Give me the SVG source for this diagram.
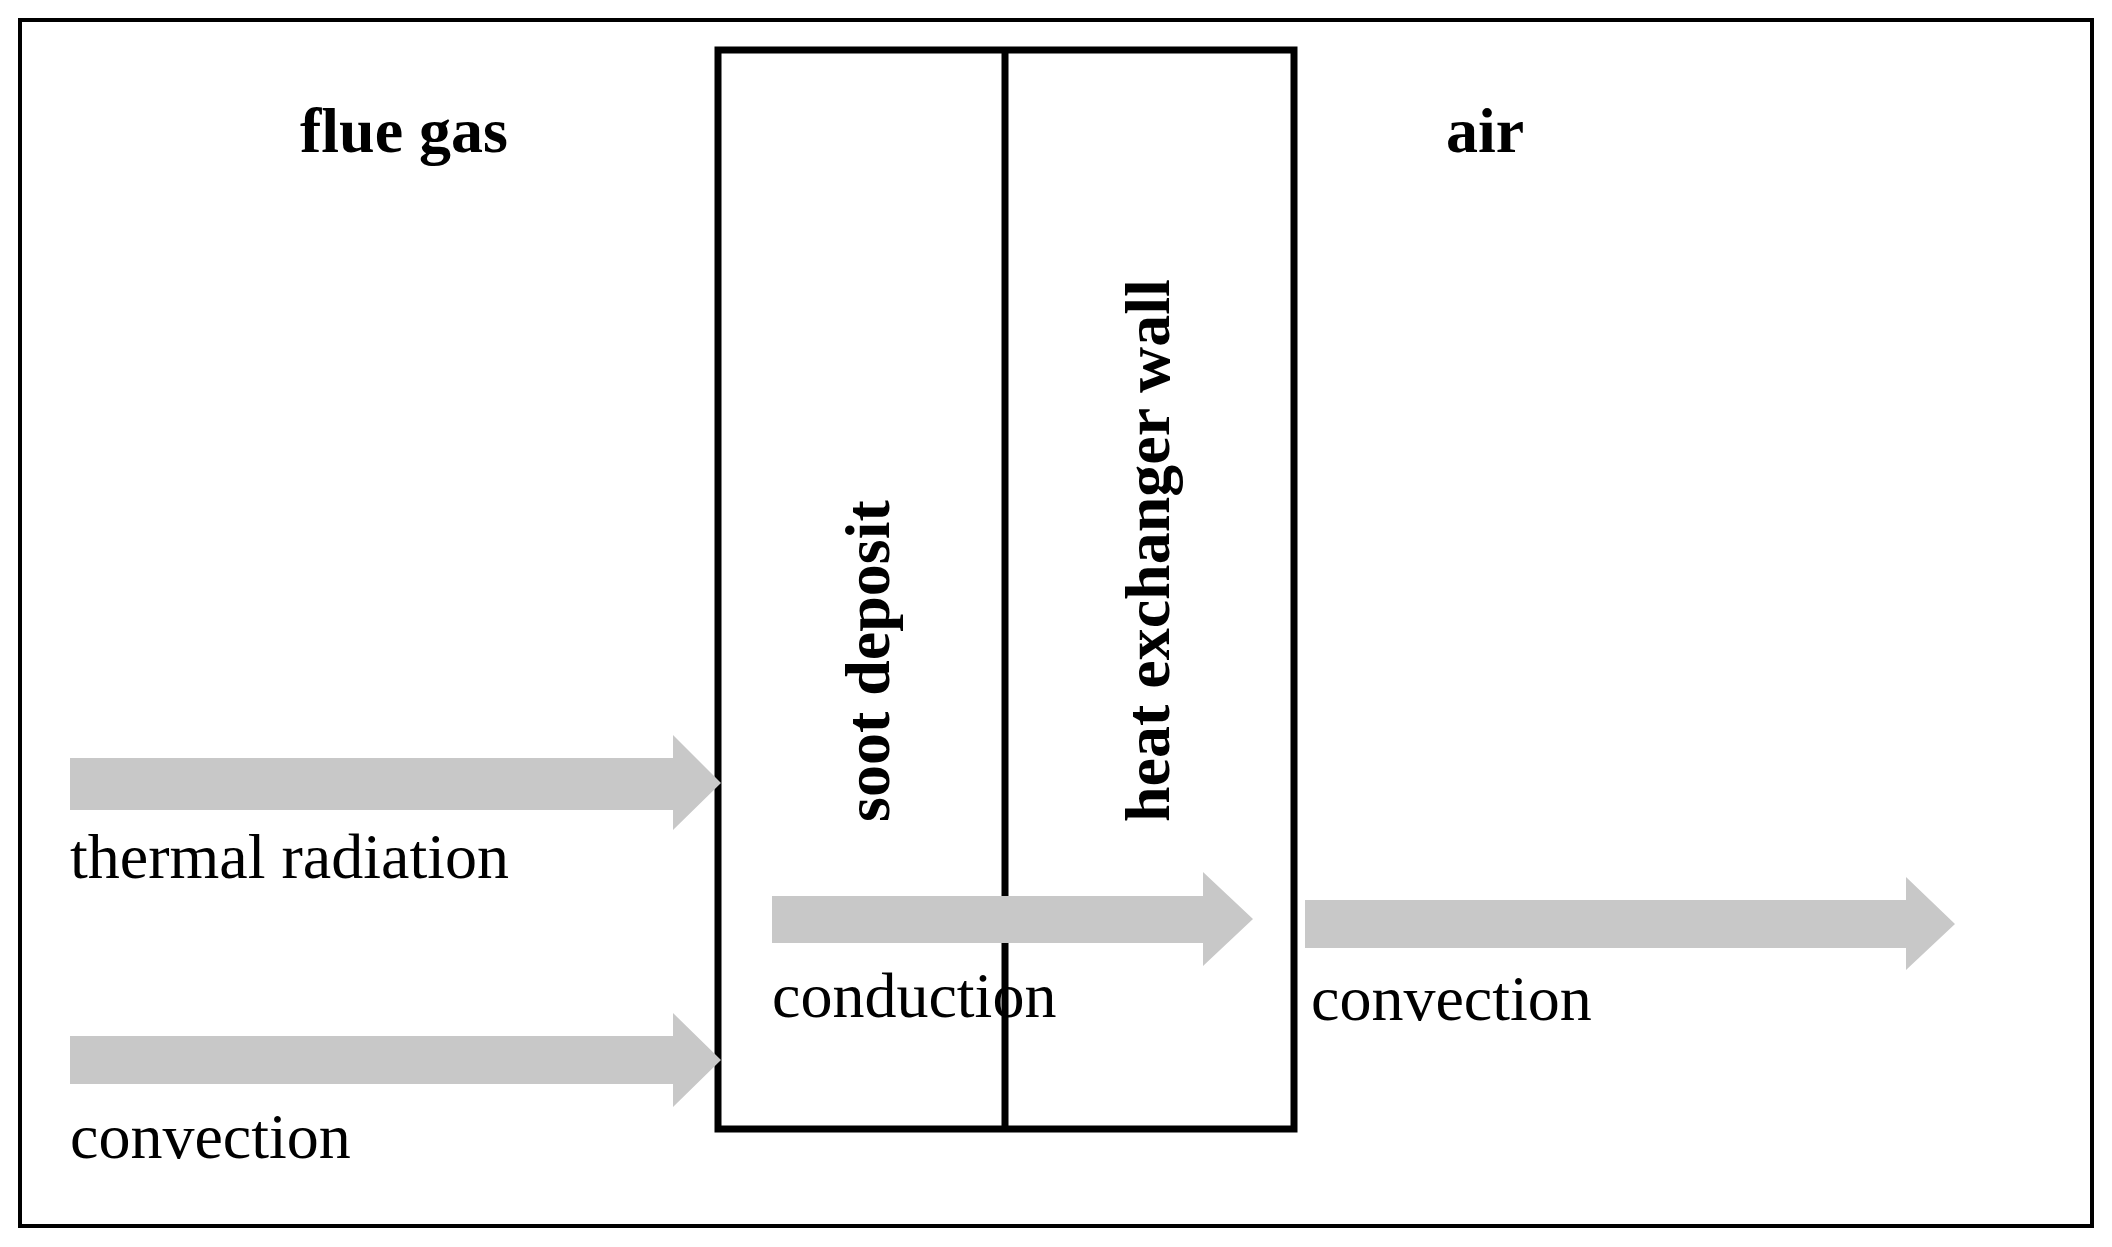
<svg xmlns="http://www.w3.org/2000/svg" width="2112" height="1247" viewBox="0 0 2112 1247">
<style>
.t{font-family:"Liberation Serif",serif;font-size:64px;fill:#000}
.b{font-family:"Liberation Serif",serif;font-size:64px;font-weight:bold;fill:#000}
.a{fill:#c8c8c8}
</style>
<rect width="2112" height="1247" fill="#fff"/>
<rect x="20" y="20" width="2072" height="1206" fill="none" stroke="#000" stroke-width="4"/>
<g id="flue"><text class="b" x="404" y="152" text-anchor="middle">flue gas</text></g>
<g id="air"><text class="b" x="1485" y="152" text-anchor="middle">air</text></g>
<g id="box">
<rect x="718" y="50" width="576" height="1079" fill="none" stroke="#000" stroke-width="7"/>
<line x1="1005" y1="50" x2="1005" y2="1129" stroke="#000" stroke-width="7"/>
<text class="b" transform="translate(889,822) rotate(-90)">soot deposit</text>
<text class="b" transform="translate(1169,822) rotate(-90)">heat exchanger wall</text>
</g>
<g id="connectors">
<polygon class="a" points="70,758 673,758 673,735 721,783 673,830 673,810 70,810"/>
<polygon class="a" points="70,1036 673,1036 673,1013 721,1060 673,1107 673,1084 70,1084"/>
<polygon class="a" points="772,896 1203,896 1203,872 1253,919 1203,966 1203,943 772,943"/>
<polygon class="a" points="1305,900 1906,900 1906,877 1955,924 1906,970 1906,948 1305,948"/>
</g>
<g id="labels">
<text class="t" x="70" y="878">thermal radiation</text>
<text class="t" x="70" y="1158">convection</text>
<text class="t" x="772" y="1017">conduction</text>
<text class="t" x="1311" y="1020">convection</text>
</g>
</svg>
